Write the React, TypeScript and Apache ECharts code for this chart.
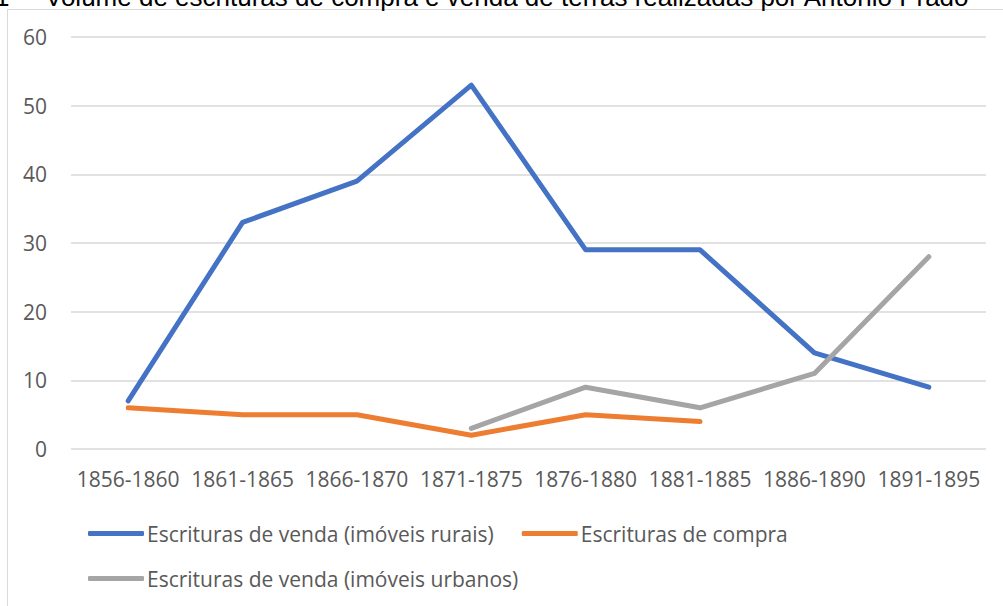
import React, { useEffect, useRef } from "react";
import * as echarts from "echarts";

const categories = ["1856-1860", "1861-1865", "1866-1870", "1871-1875", "1876-1880", "1881-1885", "1886-1890", "1891-1895"];
const ruraisValues = [7, 33, 39, 53, 29, 29, 14, 9];
const compraValues = [6, 5, 5, 2, 5, 4, null, null];
const urbanosValues = [null, null, null, 3, 9, 6, 11, 28];
const seriesNames = ["Escrituras de venda (imóveis rurais)", "Escrituras de compra", "Escrituras de venda (imóveis urbanos)"];
const titleText = "Volume de escrituras de compra e venda de terras realizadas por Antonio Prado";

const FONT = "'Open Sans', sans-serif";

export default function App() {
  const ref = useRef<HTMLDivElement>(null);
  useEffect(() => {
    if (!ref.current) return;
    const chart = echarts.init(ref.current, null, { renderer: "svg" });
    const lineSeries = (name: string, data: (number | null)[], color: string) => ({
      name,
      type: "line",
      data,
      showSymbol: false,
      symbol: "none",
      connectNulls: false,
      lineStyle: { color, width: 5, cap: "round", join: "round" },
      itemStyle: { color },
    });
    chart.setOption({
      animation: false,
      backgroundColor: "#ffffff",
      graphic: [
        {
          type: "rect",
          shape: { x: 7.5, y: 9.5, width: 1100, height: 700 },
          style: { fill: "none", stroke: "#d9d9d9", lineWidth: 1 },
          silent: true,
        },
        {
          type: "text",
          x: -5,
          y: -3,
          style: { text: "1", font: "26px 'Liberation Sans', Arial, sans-serif", fill: "#000", verticalAlign: "middle" },
        },
        {
          type: "text",
          x: 45,
          y: -3,
          style: { text: titleText, font: "26px 'Liberation Sans', Arial, sans-serif", fill: "#000", verticalAlign: "middle" },
        },
      ],
      grid: { left: 71, right: 17, top: 37, bottom: 157, containLabel: false },
      xAxis: {
        type: "category",
        data: categories,
        boundaryGap: true,
        axisLine: { show: false },
        axisTick: { show: false },
        axisLabel: { color: "#595959", fontFamily: FONT, fontSize: 21, margin: 19, interval: 0 },
      },
      yAxis: {
        type: "value",
        min: 0,
        max: 60,
        interval: 10,
        axisLine: { show: false },
        axisTick: { show: false },
        splitLine: { lineStyle: { color: "#d9d9d9", width: 1.5 } },
        axisLabel: { color: "#595959", fontFamily: FONT, fontSize: 21, margin: 24 },
      },
      legend: [
        {
          data: [seriesNames[0], seriesNames[1]],
          left: 83,
          top: 518,
          icon: "roundRect",
          itemWidth: 56,
          itemHeight: 5,
          itemGap: 28,
          textStyle: { color: "#595959", fontFamily: FONT, fontSize: 21, padding: [0, 0, 0, -2] },
        },
        {
          data: [seriesNames[2]],
          left: 83,
          top: 563,
          icon: "roundRect",
          itemWidth: 56,
          itemHeight: 5,
          textStyle: { color: "#595959", fontFamily: FONT, fontSize: 21, padding: [0, 0, 0, -2] },
        },
      ],
      series: [
        lineSeries(seriesNames[0], ruraisValues, "#4472c4"),
        lineSeries(seriesNames[1], compraValues, "#ed7d31"),
        lineSeries(seriesNames[2], urbanosValues, "#a5a5a5"),
      ],
    });
    return () => chart.dispose();
  }, []);
  return <div ref={ref} style={{ width: 1003, height: 606, position: "absolute", left: 0, top: 0 }} />;
}
